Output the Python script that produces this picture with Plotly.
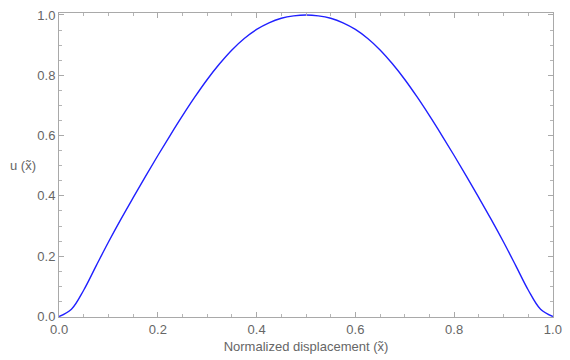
import plotly.graph_objects as go

x_vals = [0.0, 0.025, 0.05, 0.075, 0.1, 0.125, 0.15, 0.175, 0.2, 0.225, 0.25, 0.275, 0.3, 0.325, 0.35,
          0.375, 0.4, 0.425, 0.45, 0.475, 0.5, 0.525, 0.55, 0.575, 0.6, 0.625, 0.65, 0.675, 0.7,
          0.725, 0.75, 0.775, 0.8, 0.825, 0.85, 0.875, 0.9, 0.925, 0.95, 0.975, 1.0]
u_vals = [0.0, 0.024, 0.088, 0.168, 0.247, 0.322, 0.394, 0.465, 0.534, 0.601, 0.666, 0.728, 0.786, 0.838, 0.884,
          0.922, 0.952, 0.974, 0.989, 0.997, 1.0, 0.997, 0.989, 0.974, 0.952, 0.922, 0.884, 0.838, 0.786,
          0.728, 0.666, 0.601, 0.534, 0.465, 0.394, 0.322, 0.247, 0.168, 0.088, 0.024, 0.0]
tick_vals = [0.0, 0.2, 0.4, 0.6, 0.8, 1.0]
tick_text = ["0.0", "0.2", "0.4", "0.6", "0.8", "1.0"]

fig = go.Figure()
fig.add_trace(go.Scatter(x=x_vals, y=u_vals, mode="lines",
                         line=dict(color="#2020ff", width=1.4, shape="spline", smoothing=1.0),
                         showlegend=False, hoverinfo="skip"))

font = dict(family="Liberation Sans, Arial, sans-serif", size=13, color="#666666")
axis_common = dict(
    showgrid=False, zeroline=False, showline=True, linecolor="#a9a9a9", linewidth=1,
    mirror="allticks", ticks="inside", ticklen=5, tickcolor="#a9a9a9", tickwidth=1,
    tickvals=tick_vals, ticktext=tick_text, tickfont=font,
    minor=dict(ticks="inside", ticklen=3, tickcolor="#b5b5b5", dtick=0.05, tick0=0, showgrid=False),
)

fig.update_xaxes(range=[-0.0002, 1.0002], **axis_common,
                 title=dict(text="Normalized displacement (x\u0303)", font=font, standoff=6))
fig.update_yaxes(range=[-0.0016, 1.0065], **axis_common)

fig.add_annotation(text="u (x\u0303)", xref="paper", yref="paper", x=-0.072, y=0.5,
                   xanchor="center", yanchor="middle", showarrow=False, font=font)

fig.update_layout(width=570, height=360, margin=dict(l=59, r=9, t=8, b=40),
                  plot_bgcolor="white", paper_bgcolor="white")

fig.write_html("out.html")
